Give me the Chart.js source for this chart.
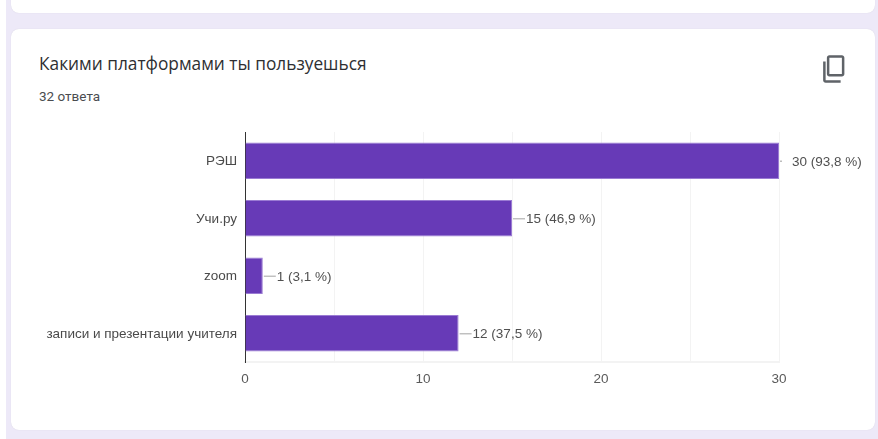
<!DOCTYPE html>
<html>
<head>
<meta charset="utf-8">
<script src="https://cdn.jsdelivr.net/npm/chart.js@4"></script>
<style>
  html, body { margin: 0; padding: 0; width: 878px; height: 439px; overflow: hidden; background: #fff; }
  #bg { position: absolute; left: 6px; top: 0; width: 872px; height: 439px; background: #ede9f8; }
  .card { position: absolute; left: 11px; width: 864px; background: #fff; border-radius: 8px; box-shadow: 0 0 1px #cfcbdc; }
  #topCard { top: -20px; height: 33px; }
  #mainCard { top: 29px; height: 401px; }
  #title { position: absolute; left: 39px; top: 52px; font: 17.3px "Open Sans", sans-serif; color: #2e2f32; white-space: nowrap; }
  #sub { position: absolute; left: 39px; top: 88px; font: 13.5px Roboto, sans-serif; color: #4a4c50; white-space: nowrap; }
  #icon { position: absolute; left: 820px; top: 54px; }
  canvas { position: absolute; left: 0; top: 0; }
</style>
</head>
<body>
<div id="bg"></div>
<div class="card" id="topCard"></div>
<div class="card" id="mainCard"></div>
<div id="title">Какими платформами ты пользуешься</div>
<div id="sub">32 ответа</div>
<svg id="icon" width="30" height="30" viewBox="0 0 24 24" fill="#5f6368">
  <path d="M16 1H8C6.9 1 6 1.9 6 3v13c0 1.1.9 2 2 2h10c1.1 0 2-.9 2-2V3c0-1.1-.9-2-2-2h-2zm2 15H8V3h10v13zM4 6H3v15c0 1.1.9 2 2 2h12v-2H5V6H4z" transform="translate(-0.5 0)"/>
</svg>
<canvas id="myChart" width="878" height="439"></canvas>
<script>
    let categories = ['РЭШ', 'Учи.ру', 'zoom', 'записи и презентации учителя']
    let counts = [30, 15, 1, 12]
    let percents = ['93,8', '46,9', '3,1', '37,5']
    let xTicks = [0, 10, 20, 30]

    // leader line and "n (p %)" text next to each bar
    const barLabels = {
        id: 'barLabels',
        afterDatasetsDraw(chart) {
            const ctx = chart.ctx
            const meta = chart.getDatasetMeta(0)
            ctx.save()
            ctx.font = '13.5px "Liberation Sans"'
            ctx.textBaseline = 'middle'
            meta.data.forEach((bar, i) => {
                let gap = counts[i] === Math.max(...counts) ? 13 : 14
                ctx.strokeStyle = '#bdbdbd'
                ctx.lineWidth = 1.4
                ctx.beginPath()
                ctx.moveTo(bar.x + 1, bar.y + 0.5)
                ctx.lineTo(bar.x + (gap === 13 ? 3 : 13), bar.y + 0.5)
                ctx.stroke()
                ctx.fillStyle = '#505050'
                ctx.fillText(`${counts[i]} (${percents[i]} %)`, bar.x + gap, bar.y + 1.5)
            })
            ctx.restore()
        }
    }

    new Chart(document.getElementById('myChart'), {
        type: 'bar',
        data: {
            labels: categories,
            datasets: [{
                data: counts,
                backgroundColor: '#673ab7',
                borderColor: '#9a7bd3',
                borderWidth: 1,
                barPercentage: 0.635,
                categoryPercentage: 1
            }]
        },
        plugins: [barLabels],
        options: {
            indexAxis: 'y',
            responsive: false,
            animation: false,
            layout: { padding: { top: 132, right: 99, left: 0, bottom: 0 } },
            plugins: { legend: { display: false }, tooltip: { enabled: false } },
            scales: {
                x: {
                    min: 0,
                    max: 30,
                    afterFit(scale) { scale.height = 77 },
                    grid: { color: '#f3f3f3', lineWidth: 1, drawTicks: false },
                    border: { color: '#f3f3f3', width: 2 },
                    ticks: {
                        stepSize: 5,
                        autoSkip: false,
                        maxRotation: 0,
                        padding: 9,
                        color: '#5a5a5a',
                        font: { family: 'Liberation Sans', size: 13.5 },
                        callback: (val) => xTicks.includes(val) ? val : ''
                    }
                },
                y: {
                    afterFit(scale) { scale.width = 245 },
                    grid: { display: false, drawTicks: false },
                    border: { color: '#333333', width: 1 },
                    ticks: {
                        padding: 8,
                        labelOffset: 1,
                        color: '#4a4a4a',
                        font: { family: 'Liberation Sans', size: 13.5 }
                    }
                }
            }
        }
    })
</script>
</body>
</html>
